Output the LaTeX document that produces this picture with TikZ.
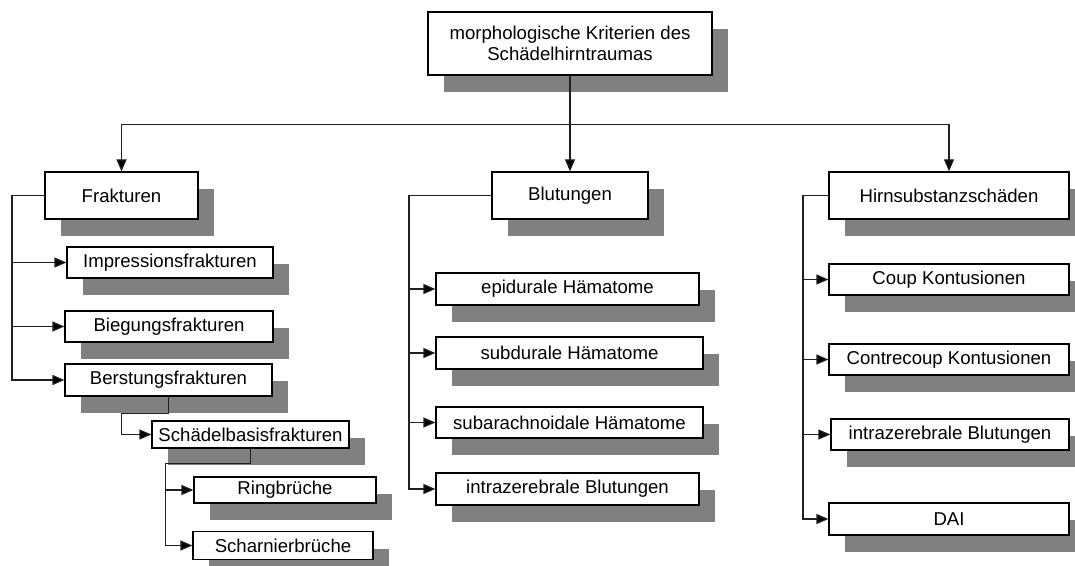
\documentclass[tikz,border=0pt]{standalone}
\usepackage{fontspec}
\setmainfont{Liberation Sans}
\usetikzlibrary{arrows.meta}
\usetikzlibrary{shadows}
\definecolor{schatten}{HTML}{808080}
\definecolor{linie}{HTML}{202020}

\begin{document}
\begin{tikzpicture}[x=0.5pt, y=-0.5pt,
    kasten/.style={draw=black, line width=0.6pt, fill=white, inner sep=0pt, align=center,
        font=\fontsize{9.3}{10.6}\selectfont,
        drop shadow={shadow xshift=8pt, shadow yshift=-8.5pt, fill=schatten, opacity=1}},
    verb/.style={draw=linie, line width=0.6pt},
    pfeil/.style={verb, -{Triangle[length=6pt, width=5pt, fill=black]}}]
        \useasboundingbox (0,0) rectangle (1075,566);
        \node[kasten, minimum width=142pt, minimum height=31.5pt] (top) at (570,43.5) {morphologische Kriterien des\\Schädelhirntraumas};
        \node[kasten, minimum width=76.5pt, minimum height=23.5pt] (frak) at (121.5,195.5) {Frakturen};
        \node[kasten, minimum width=78pt, minimum height=23.5pt] (blut) at (570,195.5) {Blutungen};
        \node[kasten, minimum width=120pt, minimum height=23.5pt] (hirn) at (949,195.5) {Hirnsubstanzschäden};
        \node[kasten, minimum width=103pt, minimum height=15.5pt] (impr) at (170,262.5) {Impressionsfrakturen};
        \node[kasten, minimum width=104pt, minimum height=15.5pt] (bieg) at (169,326.5) {Biegungsfrakturen};
        \node[kasten, minimum width=103.5pt, minimum height=16pt] (berst) at (168.5,380) {Berstungsfrakturen};
        \node[kasten, minimum width=98.5pt, minimum height=13.5pt] (basis) at (250.5,434.5) {Schädelbasisfrakturen};
        \node[kasten, minimum width=91pt, minimum height=13pt] (ring) at (285,490) {Ringbrüche};
        \node[kasten, minimum width=90pt, minimum height=14pt] (scharn) at (283,545.5) {Scharnierbrüche};
        \node[kasten, minimum width=131.5pt, minimum height=16pt] (epi) at (567.5,289) {epidurale Hämatome};
        \node[kasten, minimum width=133.5pt, minimum height=16pt] (subd) at (569.5,353) {subdurale Hämatome};
        \node[kasten, minimum width=133.5pt, minimum height=15.5pt] (subar) at (569.5,422.5) {subarachnoidale Hämatome};
        \node[kasten, minimum width=131.5pt, minimum height=16pt] (intrab) at (567.5,489) {intrazerebrale Blutungen};
        \node[kasten, minimum width=120pt, minimum height=15.5pt] (coup) at (949,279.5) {Coup Kontusionen};
        \node[kasten, minimum width=120pt, minimum height=15.5pt] (contre) at (949,359.5) {Contrecoup Kontusionen};
        \node[kasten, minimum width=119pt, minimum height=15.5pt] (intrah) at (950,434.5) {intrazerebrale Blutungen};
        \node[kasten, minimum width=120pt, minimum height=16pt] (dai) at (949,519) {DAI};
        \coordinate (railF) at (12,0);
        \coordinate (railB) at (409,0);
        \coordinate (railH) at (803,0);
        \draw[verb] (top.south) -- ++(0,49) coordinate (bus);
        \draw[pfeil] (bus) -| (frak.north);
        \draw[pfeil] (bus) -- (blut.north);
        \draw[pfeil] (bus) -| (hirn.north);
        \draw[pfeil] (frak.west) -- (frak.west -| railF) |- (berst.west);
        \foreach \n in {impr,bieg}
            \draw[pfeil] (railF |- \n.west) -- (\n.west);
        \draw[pfeil] (berst.south) -- ++(0,17) -| ([shift={(-30,0)}]basis.west) -- (basis.west);
        \draw[pfeil] (basis.south) -- ++(0,15) -| ([shift={(-27,0)}]scharn.west) -- (scharn.west);
        \draw[pfeil] ([shift={(-27,0)}]scharn.west |- ring.west) -- (ring.west);
        \draw[pfeil] (blut.west) -- (blut.west -| railB) |- (intrab.west);
        \foreach \n in {epi,subd,subar}
            \draw[pfeil] (railB |- \n.west) -- (\n.west);
        \draw[pfeil] (hirn.west) -- (hirn.west -| railH) |- (dai.west);
        \foreach \n in {coup,contre,intrah}
            \draw[pfeil] (railH |- \n.west) -- (\n.west);
    \end{tikzpicture}
\end{document}
